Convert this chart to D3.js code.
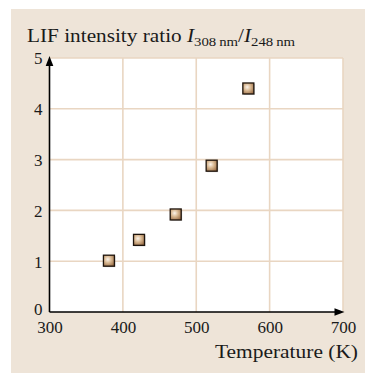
<!DOCTYPE html>
<html>
<head>
<meta charset="utf-8">
<script src="https://cdn.jsdelivr.net/npm/d3@7/dist/d3.min.js"></script>
<style>
  html, body { margin: 0; padding: 0; background: #ffffff; }
  svg { display: block; }
  text { font-family: "Liberation Serif", "Times New Roman", serif; fill: #1a1a1a; }
</style>
</head>
<body>
<script>
// Measured LIF intensity ratio vs. temperature
const temperatures = [381, 422, 472, 521, 571];
const ratios = [1.01, 1.42, 1.92, 2.88, 4.40];
const xTicks = [300, 400, 500, 600, 700];
const yTicks = [0, 1, 2, 3, 4, 5];

const W = 365, H = 373;
const svg = d3.select("body").append("svg").attr("width", W).attr("height", H);

const x = d3.scaleLinear().domain([300, 700]).range([49.5, 343]);
const y = d3.scaleLinear().domain([0, 5]).range([312, 58]);

const defs = svg.append("defs");
const grad = defs.append("radialGradient").attr("id", "markerFill")
  .attr("cx", "40%").attr("cy", "38%").attr("r", "70%");
grad.append("stop").attr("offset", "0%").attr("stop-color", "#fbf3ea");
grad.append("stop").attr("offset", "45%").attr("stop-color", "#d9b993");
grad.append("stop").attr("offset", "100%").attr("stop-color", "#9c7049");

// Panel background
svg.append("rect").attr("x", 11).attr("y", 9).attr("width", W - 11).attr("height", H - 9)
  .attr("fill", "#eee4d8");

// Plot area
svg.append("rect")
  .attr("x", x(300)).attr("y", y(5))
  .attr("width", x(700) - x(300)).attr("height", y(0) - y(5))
  .attr("fill", "#ffffff");

// Grid
const grid = svg.append("g").attr("stroke", "#e9d6c2").attr("stroke-width", 1.6);
grid.selectAll("line.v").data(xTicks.slice(1)).join("line")
  .attr("x1", d => x(d)).attr("x2", d => x(d))
  .attr("y1", y(0)).attr("y2", y(5));
grid.selectAll("line.h").data(yTicks.slice(1)).join("line")
  .attr("x1", x(300)).attr("x2", x(700))
  .attr("y1", d => y(d)).attr("y2", d => y(d));

// Axes (labels only; the axis lines are drawn with arrowheads below)
const tickFont = "\"Liberation Serif\", \"Times New Roman\", serif";
const yAxis = svg.append("g").attr("transform", `translate(${x(300)},0)`)
  .call(d3.axisLeft(y).tickValues(yTicks).tickSize(0).tickPadding(7).tickFormat(d3.format("d")));
yAxis.select(".domain").remove();
yAxis.selectAll("text").style("font-size", "17px").style("font-family", tickFont)
  .style("fill", "#1a1a1a").attr("dy", d => d === 0 ? "0.12em" : "0.35em");

const xAxis = svg.append("g").attr("transform", `translate(0,${y(0)})`)
  .call(d3.axisBottom(x).tickValues(xTicks).tickSize(0).tickPadding(9).tickFormat(d3.format("d")));
xAxis.select(".domain").remove();
xAxis.selectAll("text").style("font-size", "17px").style("font-family", tickFont)
  .style("fill", "#1a1a1a");

// Axis lines with arrowheads
const ax = svg.append("g").attr("stroke", "#000").attr("stroke-width", 1.6).attr("fill", "none");
ax.append("line").attr("x1", x(300)).attr("x2", x(300)).attr("y1", y(0)).attr("y2", y(5) + 2);
ax.append("line").attr("x1", x(300)).attr("x2", x(700) - 2).attr("y1", y(0)).attr("y2", y(0));
svg.append("path")
  .attr("d", `M${x(300)},${y(5) - 2} L${x(300) - 3.8},${y(5) + 8} L${x(300) + 3.8},${y(5) + 8} Z`)
  .attr("fill", "#000");
svg.append("path")
  .attr("d", `M${x(700) + 1.5},${y(0)} L${x(700) - 8.5},${y(0) - 3.8} L${x(700) - 8.5},${y(0) + 3.8} Z`)
  .attr("fill", "#000");

// Data markers
const pts = temperatures.map((t, i) => ({ t, r: ratios[i] }));
const s = 11;
svg.append("g").selectAll("rect.shadow").data(pts).join("rect")
  .attr("x", d => x(d.t) - s / 2 + 1).attr("y", d => y(d.r) - s / 2 + 1)
  .attr("width", s).attr("height", s).attr("fill", "#000").attr("opacity", 0.18);
svg.append("g").selectAll("rect").data(pts).join("rect")
  .attr("x", d => x(d.t) - s / 2).attr("y", d => y(d.r) - s / 2)
  .attr("width", s).attr("height", s)
  .attr("fill", "url(#markerFill)").attr("stroke", "#1e140c").attr("stroke-width", 1.3);

// Axis titles
const title = svg.append("text").attr("x", 27).attr("y", 42).style("font-size", "18px")
  .attr("textLength", 268).attr("lengthAdjust", "spacingAndGlyphs");
title.append("tspan").text("LIF intensity ratio ");
title.append("tspan").attr("font-style", "italic").text("I");
title.append("tspan").style("font-size", "12.5px").attr("dy", 4).text("308\u2009nm");
title.append("tspan").attr("dy", -4).text("/");
title.append("tspan").attr("font-style", "italic").text("I");
title.append("tspan").style("font-size", "12.5px").attr("dy", 4).text("248\u2009nm");

svg.append("text").attr("x", 358).attr("y", 358).style("font-size", "18px")
  .attr("text-anchor", "end")
  .attr("textLength", 143).attr("lengthAdjust", "spacingAndGlyphs")
  .text("Temperature (K)");
</script>
</body>
</html>
